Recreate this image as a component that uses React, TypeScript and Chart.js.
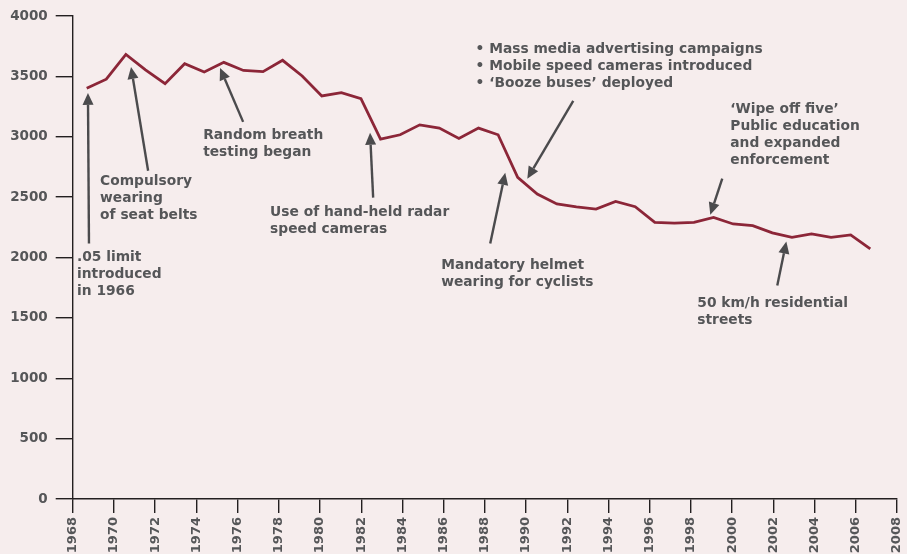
import { useEffect, useRef } from "react";
import { Chart, registerables } from "chart.js";

Chart.register(...registerables);

// Years of the series and the values
const years = [
  1968, 1969, 1970, 1971, 1972, 1973, 1974, 1975, 1976, 1977,
  1978, 1979, 1980, 1981, 1982, 1983, 1984, 1985, 1986, 1987,
  1988, 1989, 1990, 1991, 1992, 1993, 1994, 1995, 1996, 1997,
  1998, 1999, 2000, 2001, 2002, 2003, 2004, 2005, 2006, 2007, 2008,
];
const values = [
  3402, 3477, 3683, 3555, 3440, 3606, 3537, 3617, 3550, 3540,
  3634, 3504, 3339, 3366, 3317, 2981, 3017, 3099, 3072, 2986,
  3072, 3017, 2664, 2526, 2444, 2420, 2402, 2465, 2421, 2292,
  2285, 2292, 2333, 2278, 2264, 2204, 2168, 2196, 2168, 2188, 2072,
];

// Axis tick definitions
const xTickMin = 1968;
const xTickMax = 2008;
const xTickStep = 2;
const yTickMin = 0;
const yTickMax = 4000;
const yTickStep = 500;

// Annotation texts (anchored in axis units: visible year axis, value axis)
const annotationTexts = [
  [".05 limit", "introduced", "in 1966"],
  ["Compulsory", "wearing", "of seat belts"],
  ["Random breath", "testing began"],
  ["Use of hand-held radar", "speed cameras"],
  ["Mandatory helmet", "wearing for cyclists"],
  ["\u2022 Mass media advertising campaigns", "\u2022 Mobile speed cameras introduced", "\u2022 \u2018Booze buses\u2019 deployed"],
  ["\u2018Wipe off five\u2019", "Public education", "and expanded", "enforcement"],
  ["50 km/h residential", "streets"],
];
const annotationTextAt = [
  [1968.21, 2000],
  [1969.33, 2628],
  [1974.33, 3008],
  [1977.58, 2372],
  [1985.88, 1934],
  [1987.55, 3727],
  [1999.91, 3231],
  [1998.31, 1620],
];
const arrowTails = [
  [1968.79, 2116],
  [1971.66, 2719],
  [1976.27, 3124],
  [1982.58, 2496],
  [1988.26, 2116],
  [1992.29, 3298],
  [1999.52, 2653],
  [2002.19, 1769],
];
const arrowTips = [
  [1968.74, 3364],
  [1970.83, 3579],
  [1975.15, 3570],
  [1982.43, 3033],
  [1988.99, 2702],
  [1990.06, 2653],
  [1998.94, 2355],
  [2002.63, 2132],
];

const BG = "#f6eded";
const TEXT = "#555658";
const ARROW = "#4b4b4d";
const LINE = "#8c2638";
const AXIS = "#231f20";
const FONT = "'DejaVu Sans', sans-serif";

const annotationPlugin = {
  id: "annotations",
  beforeDraw(chart: any) {
    const ctx = chart.ctx;
    ctx.save();
    ctx.fillStyle = BG;
    ctx.fillRect(0, 0, chart.width, chart.height);
    ctx.restore();
  },
  afterDraw(chart: any) {
    const ctx = chart.ctx;
    const xs = chart.scales.x;
    const ys = chart.scales.y;
    ctx.save();
    // arrows
    for (let i = 0; i < arrowTails.length; i++) {
      const x1 = xs.getPixelForValue(arrowTails[i][0]);
      const y1 = ys.getPixelForValue(arrowTails[i][1]);
      const x2 = xs.getPixelForValue(arrowTips[i][0]);
      const y2 = ys.getPixelForValue(arrowTips[i][1]);
      const ang = Math.atan2(y2 - y1, x2 - x1);
      const headLen = 12;
      const headHalf = 5.5;
      const bx = x2 - headLen * Math.cos(ang);
      const by = y2 - headLen * Math.sin(ang);
      ctx.strokeStyle = ARROW;
      ctx.lineWidth = 2.4;
      ctx.beginPath();
      ctx.moveTo(x1, y1);
      ctx.lineTo(bx, by);
      ctx.stroke();
      ctx.fillStyle = ARROW;
      ctx.beginPath();
      ctx.moveTo(x2, y2);
      ctx.lineTo(bx + headHalf * Math.sin(ang), by - headHalf * Math.cos(ang));
      ctx.lineTo(bx - headHalf * Math.sin(ang), by + headHalf * Math.cos(ang));
      ctx.closePath();
      ctx.fill();
    }
    // texts
    ctx.fillStyle = TEXT;
    ctx.font = `bold 13.8px ${FONT}`;
    ctx.textBaseline = "middle";
    ctx.textAlign = "left";
    const lineH = 17;
    for (let i = 0; i < annotationTexts.length; i++) {
      const tx = xs.getPixelForValue(annotationTextAt[i][0]);
      const ty = ys.getPixelForValue(annotationTextAt[i][1]);
      annotationTexts[i].forEach((t, k) => ctx.fillText(t, tx, ty + k * lineH));
    }
    ctx.restore();
  },
};

export default function App() {
  const canvasRef = useRef<HTMLCanvasElement | null>(null);

  useEffect(() => {
    document.body.style.margin = "0";
    document.body.style.background = BG;
    const canvas = canvasRef.current;
    if (!canvas) return;
    const dataPoints = years.map((y, i) => ({ x: y, y: values[i] }));
    const chart = new Chart(canvas, {
      type: "line",
      data: {
        datasets: [
          {
            data: dataPoints,
            xAxisID: "xd",
            yAxisID: "y",
            borderColor: LINE,
            borderWidth: 2.8,
            pointRadius: 0,
            tension: 0,
            fill: false,
          },
        ],
      },
      options: {
        animation: false,
        responsive: true,
        maintainAspectRatio: false,
        layout: { padding: { top: 15, right: 0, left: 0, bottom: 0 } },
        plugins: {
          legend: { display: false },
          tooltip: { enabled: false },
        },
        scales: {
          xd: {
            type: "linear",
            display: false,
            min: 1967.285,
            max: 2009.364,
          },
          x: {
            type: "linear",
            position: "bottom",
            min: xTickMin,
            max: xTickMax,
            afterFit: (s: any) => {
              s.height = 55;
              s.paddingRight = 10;
              s.paddingLeft = 0;
            },
            ticks: {
              stepSize: xTickStep,
              minRotation: 90,
              maxRotation: 90,
              autoSkip: false,
              padding: 4,
              color: TEXT,
              font: { family: FONT, size: 13, weight: "bold" },
              callback: (v: any) => String(v),
            },
            grid: {
              drawOnChartArea: false,
              drawTicks: true,
              tickLength: 14,
              color: AXIS,
              lineWidth: 1.4,
            },
            border: { display: true, color: AXIS, width: 1.4 },
          },
          y: {
            type: "linear",
            position: "left",
            min: yTickMin,
            max: yTickMax,
            afterFit: (s: any) => {
              s.width = 72.7;
            },
            ticks: {
              stepSize: yTickStep,
              padding: 8,
              color: TEXT,
              font: { family: FONT, size: 13.5, weight: "bold" },
              callback: (v: any) => String(v),
            },
            grid: {
              drawOnChartArea: false,
              drawTicks: true,
              tickLength: 17,
              color: AXIS,
              lineWidth: 1.4,
            },
            border: { display: true, color: AXIS, width: 1.4 },
          },
        },
      } as any,
      plugins: [annotationPlugin],
    });
    return () => chart.destroy();
  }, []);

  return (
    <div style={{ width: 907, height: 554, position: "relative", background: BG }}>
      <canvas ref={canvasRef} />
    </div>
  );
}
